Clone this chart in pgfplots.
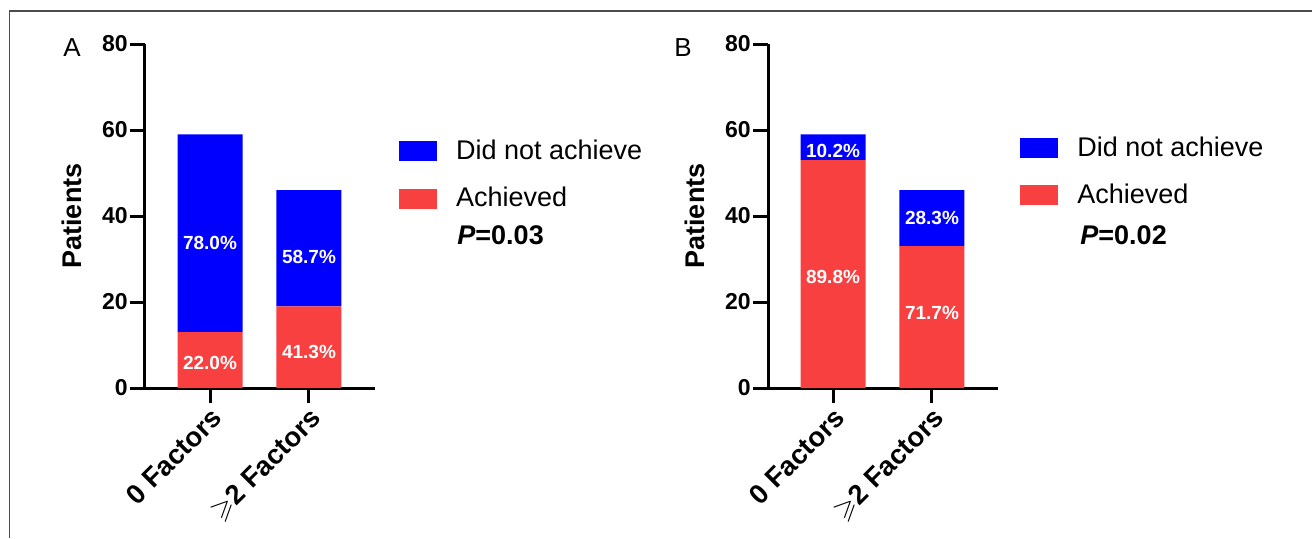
\documentclass[border=0pt]{standalone}
\usepackage{pgfplots}
\pgfplotsset{compat=1.18}
\usepackage{amssymb}
\usepackage{fontspec}
\setmainfont{Liberation Sans}
\definecolor{myblue}{RGB}{0,0,255}
\definecolor{myred}{RGB}{249,64,64}
\pgfplotsset{
  panel/.style={
    scale only axis,
    width=115pt, height=172pt,
    xmin=-0.657, xmax=1.667,
    ymin=0, ymax=80,
    axis x line*=bottom, axis y line*=left,
    axis line style={line width=1.5pt,-},
    tick style={line width=1.5pt, black},
    tick align=outside,
    major tick length=7.5pt,
    ytick={0,20,40,60,80},
    xtick={0,1},
    xticklabels={{\textbf{0 Factors}},{$\geqslant$\textbf{2 Factors}}},
    xticklabel style={rotate=45, anchor=north east, font=\fontsize{13.7}{14}\selectfont, inner sep=1pt},
    yticklabel style={font=\bfseries\fontsize{11.5}{12}\selectfont, inner sep=1pt},
    /pgf/number format/assume math mode=true,
    ylabel={\textbf{Patients}},
    every axis y label/.style={at={(axis description cs:-0.317,0.5)}, rotate=90, anchor=center, font=\fontsize{13.5}{14}\selectfont},
    legend cell align=left,
    legend style={draw=none, fill=none, inner sep=0pt, row sep=8.5pt, column sep=0pt,
      font=\fontsize{13.5}{14}\selectfont},
  }
}
\begin{document}
\begin{tikzpicture}
\useasboundingbox (0,0) rectangle (656pt,269pt);
\draw[line width=0.75pt, black!70] (4.75pt,0) -- (4.75pt,263.5pt) -- (656pt,263.5pt);
% Panel A
\begin{axis}[panel, at={(72.5pt,75pt)}, anchor=south west,
  ybar stacked, bar width=32.5pt,
  legend style={at={(axis description cs:1.104,0.735)}, anchor=north west}]
\addlegendimage{legend image code/.code={\fill[myblue] (0pt,-4.75pt) rectangle (18.5pt,4.75pt);}}
\addlegendentry{\hspace{7.5pt}Did not achieve}
\addlegendimage{legend image code/.code={\fill[myred] (0pt,-4.75pt) rectangle (18.5pt,4.75pt);}}
\addlegendentry{\hspace{7.5pt}Achieved}
\addplot[fill=myred, draw=none, forget plot] coordinates {(0,13) (1,19)};
\addplot[fill=myblue, draw=none, forget plot] coordinates {(0,46) (1,27)};
\coordinate (a1) at (axis cs:0,33.7);
\coordinate (a2) at (axis cs:0,5.8);
\coordinate (a3) at (axis cs:1,30.5);
\coordinate (a4) at (axis cs:1,8.4);
\end{axis}
% Panel B
\begin{axis}[panel, at={(384pt,75pt)}, anchor=south west,
  ybar stacked, bar width=32.5pt,
  legend style={at={(axis description cs:1.096,0.744)}, anchor=north west}]
\addlegendimage{legend image code/.code={\fill[myblue] (0pt,-4.75pt) rectangle (18.5pt,4.75pt);}}
\addlegendentry{\hspace{7.5pt}Did not achieve}
\addlegendimage{legend image code/.code={\fill[myred] (0pt,-4.75pt) rectangle (18.5pt,4.75pt);}}
\addlegendentry{\hspace{7.5pt}Achieved}
\addplot[fill=myred, draw=none, forget plot] coordinates {(0,53) (1,33)};
\addplot[fill=myblue, draw=none, forget plot] coordinates {(0,6) (1,13)};
\coordinate (b1) at (axis cs:0,55.1);
\coordinate (b2) at (axis cs:0,25.8);
\coordinate (b3) at (axis cs:1,39.5);
\coordinate (b4) at (axis cs:1,17.4);
\end{axis}
\begin{scope}[every node/.style={text=white, font=\bfseries\fontsize{9.5}{10}\selectfont}]
\node at (a1) {78.0\%};
\node at (a2) {22.0\%};
\node at (a3) {58.7\%};
\node at (a4) {41.3\%};
\node at (b1) {10.2\%};
\node at (b2) {89.8\%};
\node at (b3) {28.3\%};
\node at (b4) {71.7\%};
\end{scope}
\node[anchor=west, inner sep=0pt, font=\fontsize{13.5}{14}\selectfont] at (228.5pt,151.5pt) {\textbf{\textit{P}=0.03}};
\node[anchor=west, inner sep=0pt, font=\fontsize{13.5}{14}\selectfont] at (540pt,151.5pt) {\textbf{\textit{P}=0.02}};
\node[font=\fontsize{13}{13}\selectfont] at (36pt,245pt) {A};
\node[font=\fontsize{13}{13}\selectfont] at (341.5pt,245pt) {B};
\end{tikzpicture}
\end{document}
